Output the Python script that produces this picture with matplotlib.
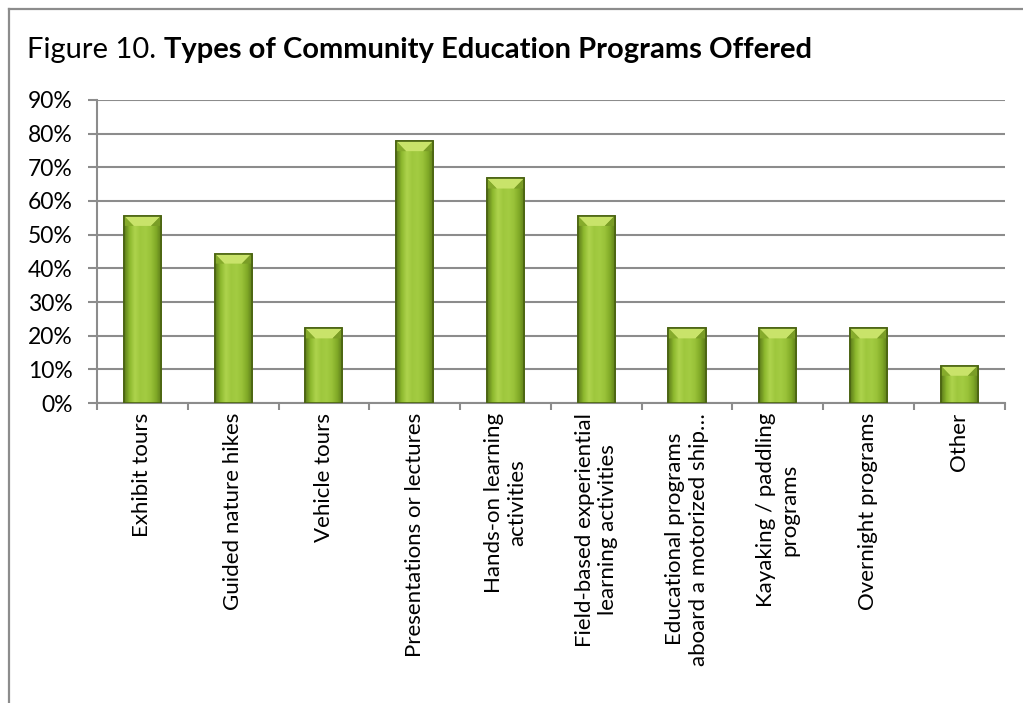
import numpy as np
import matplotlib.pyplot as plt
from matplotlib.lines import Line2D
from matplotlib.patches import Polygon
from matplotlib.ticker import PercentFormatter, FixedLocator

plt.rcParams['font.family'] = ['Lato', 'DejaVu Sans']

programs = ["Exhibit tours", "Guided nature hikes", "Vehicle tours",
            "Presentations or lectures", "Hands-on learning\nactivities",
            "Field-based experiential\nlearning activities",
            "Educational programs\naboard a motorized ship\u2026",
            "Kayaking / paddling\nprograms", "Overnight programs", "Other"]
share = [55.6, 44.4, 22.2, 77.8, 66.7, 55.6, 22.2, 22.2, 22.2, 11.1]

fig = plt.figure(figsize=(10.23, 7.03), dpi=100)
ax = fig.add_axes([0.0948, 0.4267, 0.8872, 0.4311])

x = np.arange(len(programs))
width = 0.41
bars = ax.bar(x, share, width=width, color='#9bc23c', edgecolor='#4a6312',
              linewidth=1.2, zorder=3)

# horizontal shading across each bar
cols = np.array([[0.36, 0.48, 0.10], [0.55, 0.72, 0.18], [0.68, 0.83, 0.30],
                 [0.62, 0.78, 0.24], [0.64, 0.80, 0.26], [0.60, 0.76, 0.22],
                 [0.50, 0.66, 0.15], [0.36, 0.48, 0.10]])
pos = np.linspace(0, 1, len(cols))
t = np.linspace(0, 1, 64)
grad = np.stack([np.interp(t, pos, cols[:, k]) for k in range(3)], axis=-1)[None, :, :]

for b, v in zip(bars, share):
    x0 = b.get_x()
    x1 = x0 + b.get_width()
    im = ax.imshow(grad, extent=(x0, x1, 0, v), aspect='auto', zorder=3.5,
                   interpolation='bilinear')
    im.set_clip_path(b)
    # bevelled top
    d = 3.0
    ins = 0.11
    top = Polygon([[x0, v], [x1, v], [x1 - ins, v - d], [x0 + ins, v - d]],
                  closed=True, facecolor='#c9e36a', edgecolor='none', zorder=4)
    ax.add_patch(top)
    for sx, sc in ((x0, '#86ab2c'), (x1, '#7a9d26')):
        xi = x0 + ins if sx == x0 else x1 - ins
        ax.add_patch(Polygon([[sx, v], [xi, v - d], [sx, v - d]], closed=True,
                             facecolor=sc, edgecolor='none', zorder=4))
    ax.add_patch(Polygon([[x0, 0], [x1, 0], [x1, v], [x0, v]], closed=True,
                         fill=False, edgecolor='#4a6312', linewidth=1.2, zorder=5))

ax.set_xlim(-0.5, len(programs) - 0.5)
ax.set_ylim(0, 90)
ax.set_yticks(np.arange(0, 91, 10))
ax.yaxis.set_major_formatter(PercentFormatter(decimals=0))
ax.grid(axis='y', color='#8c8c8c', linewidth=1.5, zorder=0)
ax.set_axisbelow(True)

ax.set_xticks(x)
ax.set_xticklabels(programs, rotation=90, ha='center', va='top',
                   multialignment='center', fontsize=16)
ax.xaxis.set_minor_locator(FixedLocator(np.arange(-0.5, len(programs), 1.0)))
ax.tick_params(axis='x', which='major', length=0, pad=7)
ax.tick_params(axis='x', which='minor', length=5, width=1.5, color='#8c8c8c',
               direction='out')
ax.tick_params(axis='y', length=6.5, width=1.5, color='#8c8c8c', labelsize=16.5,
               pad=11)

for s in ('top', 'right'):
    ax.spines[s].set_visible(False)
for s in ('left', 'bottom'):
    ax.spines[s].set_color('#8c8c8c')
    ax.spines[s].set_linewidth(1.5)

# chart frame
fx = 8.5 / 1023
fy = 1 - 8.5 / 703
fig.add_artist(Line2D([fx, fx], [0, fy], color='#8c8c8c', lw=1.6))
fig.add_artist(Line2D([fx, 1], [fy, fy], color='#8c8c8c', lw=1.6))

# title: normal prefix followed by bold text
t1 = fig.text(27 / 1023, 1 - 58 / 703, "Figure 10. ", fontsize=21, va='baseline')
fig.canvas.draw()
bb = t1.get_window_extent()
fig.text(bb.x1 / fig.bbox.width, 1 - 58 / 703,
         "Types of Community Education Programs Offered",
         fontsize=21, fontweight='bold', va='baseline')

fig.savefig('out.png', dpi=100)
